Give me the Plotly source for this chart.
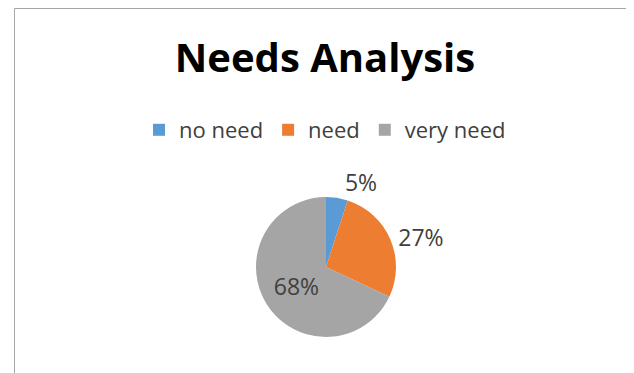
import plotly.graph_objects as go

categories = ["no need", "need", "very need"]
values = [5, 27, 68]
colors = ["#5B9BD5", "#ED7D31", "#A5A5A5"]
label_positions = ["outside", "outside", "inside"]

# page body adds an 8px margin; figure coordinates = screen - 8
OFF = 8
W, H = 634 - OFF, 373 - OFF
cx, cy, r = 326 - OFF, 267 - OFF, 70

fig = go.Figure(go.Pie(
    labels=categories,
    values=values,
    marker=dict(colors=colors, line=dict(width=0)),
    sort=False,
    direction="clockwise",
    rotation=0,
    textinfo="percent",
    texttemplate="%{percent:.0%}",
    textposition=label_positions,
    textfont=dict(family="Open Sans", size=23, color="#404040"),
    insidetextorientation="horizontal",
    automargin=False,
    domain=dict(x=[(cx - r) / W, (cx + r) / W], y=[(H - cy - r) / H, (H - cy + r) / H]),
    hoverinfo="label+percent",
))

fig.update_layout(
    width=W, height=H,
    margin=dict(l=0, r=0, t=0, b=0),
    paper_bgcolor="white",
    plot_bgcolor="white",
    title=dict(text="<b>Needs Analysis</b>", x=(325 - OFF) / W, xanchor="center",
               y=1 - (58 - OFF) / H, yanchor="middle", yref="container",
               font=dict(family="Open Sans", size=40, color="#000000")),
    legend=dict(orientation="h", x=(325 - OFF) / W, xanchor="center", y=1 - (130 - OFF) / H, yanchor="middle",
                font=dict(family="Open Sans", size=22, color="#404040"),
                traceorder="normal", itemwidth=30),
    shapes=[
        dict(type="line", xref="paper", yref="paper", x0=(14.5 - OFF) / W, x1=1, y0=1 - 0.5 / H, y1=1 - 0.5 / H,
             line=dict(color="#A6A6A6", width=1)),
        dict(type="line", xref="paper", yref="paper", x0=(14.5 - OFF) / W, x1=(14.5 - OFF) / W, y0=0, y1=1 - 0.5 / H,
             line=dict(color="#A6A6A6", width=1)),
    ],
)

fig.write_html("out.html")
